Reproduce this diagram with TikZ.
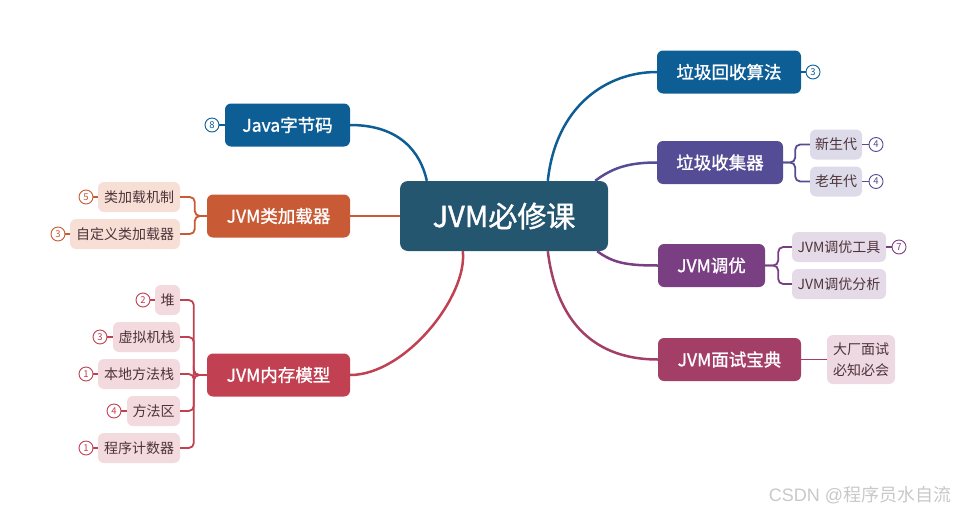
\documentclass[tikz,border=0pt]{standalone}
\usepackage{fontspec}
\setmainfont{Noto Sans CJK SC}
\newfontfamily\semib[FakeBold=1.3]{Noto Sans CJK SC}
\newfontfamily\wmfont{Liberation Sans}
\usetikzlibrary{calc}
\definecolor{cmain}{RGB}{36,86,112}
\definecolor{cblue}{RGB}{14,94,150}
\definecolor{corange}{RGB}{200,90,53}
\definecolor{cred}{RGB}{193,64,82}
\definecolor{cpurple}{RGB}{84,76,148}
\definecolor{cviolet}{RGB}{122,62,130}
\definecolor{cberry}{RGB}{163,62,102}
\definecolor{lorange}{RGB}{247,223,214}
\definecolor{lred}{RGB}{243,218,222}
\definecolor{lpurple}{RGB}{221,219,234}
\definecolor{lviolet}{RGB}{229,218,232}
\definecolor{lberry}{RGB}{238,217,226}
\definecolor{ctext}{RGB}{78,52,58}
\definecolor{cwater}{RGB}{200,200,200}
\begin{document}
\begin{tikzpicture}[x=1pt,y=-1pt,
  mainbox/.style={fill=cmain, text=white, rounded corners=8, minimum width=208, minimum height=70, font=\semib\fontsize{29}{32}\selectfont, inner sep=0},
  lone/.style={fill=#1, text=white, rounded corners=6, minimum height=43, font=\semib\fontsize{17.5}{20}\selectfont, inner sep=0},
  ltwo/.style={fill=#1, text=ctext, rounded corners=6, minimum height=30, font=\fontsize{14}{16}\selectfont, inner sep=0},
  badge/.style={circle, draw=#1, fill=white, line width=0.9, minimum size=14, inner sep=0, font=\fontsize{9.5}{10}\selectfont, text=#1},
  branch/.style={draw=#1, line width=2.5},
  bracket/.style={draw=#1, line width=1.8, rounded corners=5},
  blink/.style={draw=#1, line width=1.2}
]
\useasboundingbox (0,0) rectangle (957,514);

% central
\node[mainbox] (c) at (504,216) {JVM必修课};

% left level 1
\node[lone=cblue, minimum width=125] (java) at (287.5,125) {Java字节码};
\node[lone=corange, minimum width=143] (cl) at (278.5,216) {JVM类加载器};
\node[lone=cred, minimum width=143] (mm) at (278.5,375) {JVM内存模型};

% right level 1
\node[lone=cblue, minimum width=144] (gca) at (729,72) {垃圾回收算法};
\node[lone=cpurple, minimum width=126] (gcc) at (720,162.5) {垃圾收集器};
\node[lone=cviolet, minimum width=107] (tune) at (711.5,265.5) {JVM调优};
\node[lone=cberry, minimum width=143] (iv) at (729.5,359.5) {JVM面试宝典};

% branches
\draw[branch=cblue] (java.east) .. controls +(50,0) and +(-6,-28) .. ($(c.north west)+(27,0)$);
\draw[branch=corange] (cl.east) -- (c.west);
\draw[branch=cred] (mm.east) .. controls +(55,0) and +(5,45) .. ($(c.south west)+(63,0)$);
\draw[branch=cblue] ($(c.north west)+(148,0)$) .. controls +(8,-75) and +(-50,0) .. (gca.west);
\draw[branch=cpurple] ($(c.north east)+(-13,0)$) .. controls +(16,-12) and +(-30,0) .. (gcc.west);
\draw[branch=cviolet] ($(c.south east)+(-11,0)$) .. controls +(16,12) and +(-30,0) .. (tune.west);
\draw[branch=cberry] ($(c.south west)+(148,0)$) .. controls +(10,80) and +(-55,0) .. (iv.west);

% class loader children
\node[ltwo=lorange, minimum width=82] (cl1) at (139,197) {类加载机制};
\node[ltwo=lorange, minimum width=110] (cl2) at (125,234) {自定义类加载器};
\foreach \n in {cl1,cl2}
  \draw[bracket=corange] (cl.west) -- ++(-12,0) |- (\n.east);
\node[badge=corange] (b1) at (86,197) {5};
\node[badge=corange] (b2) at (58,234) {3};
\draw[blink=corange] (b1) -- (cl1);
\draw[blink=corange] (b2) -- (cl2);

% memory model children
\node[ltwo=lred, minimum width=25] (m1) at (167.5,300) {堆};
\node[ltwo=lred, minimum width=67] (m2) at (146.5,337) {虚拟机栈};
\node[ltwo=lred, minimum width=82] (m3) at (139,374) {本地方法栈};
\node[ltwo=lred, minimum width=53] (m4) at (153.5,411) {方法区};
\node[ltwo=lred, minimum width=82] (m5) at (139,448) {程序计数器};
\foreach \n in {m1,m2,m3,m4,m5}
  \draw[bracket=cred] (mm.west) -- ++(-13,0) |- (\n.east);
\node[badge=cred] (bm1) at (143,300) {2};
\node[badge=cred] (bm2) at (100,337) {3};
\node[badge=cred] (bm3) at (86,374) {1};
\node[badge=cred] (bm4) at (114,411) {4};
\node[badge=cred] (bm5) at (86,448) {1};
\foreach \i in {1,...,5}
  \draw[blink=cred] (bm\i) -- (m\i);

% java badge
\node[badge=cblue] (bj) at (212,125) {8};
\draw[blink=cblue] (bj) -- (java);

% gc algorithm badge
\node[badge=cblue] (bg) at (813,72) {3};
\draw[blink=cblue] (gca) -- (bg);

% gc collectors children
\node[ltwo=lpurple, minimum width=52] (g1) at (836,144.5) {新生代};
\node[ltwo=lpurple, minimum width=52] (g2) at (836,181.5) {老年代};
\foreach \n in {g1,g2}
  \draw[bracket=cpurple] (gcc.east) -- ++(12,0) |- (\n.west);
\node[badge=cpurple] (bg1) at (876,144.5) {4};
\node[badge=cpurple] (bg2) at (876,181.5) {4};
\draw[blink=cpurple] (g1) -- (bg1);
\draw[blink=cpurple] (g2) -- (bg2);

% tuning children
\node[ltwo=lviolet, minimum width=94] (t1) at (839,247) {JVM调优工具};
\node[ltwo=lviolet, minimum width=94] (t2) at (839,284) {JVM调优分析};
\foreach \n in {t1,t2}
  \draw[bracket=cviolet] (tune.east) -- ++(13,0) |- (\n.west);
\node[badge=cviolet] (bt1) at (899,247) {7};
\draw[blink=cviolet] (t1) -- (bt1);

% interview child
\node[ltwo=lberry, minimum width=68, minimum height=49, align=center, font=\fontsize{14}{21}\selectfont] (i1) at (861,359.5) {大厂面试\\必知必会};
\draw[bracket=cberry] (iv.east) -- (i1.west);

% watermark
\node[text=cwater, font=\fontsize{18}{19}\selectfont, inner sep=0] (wm) at (860,495) {{\wmfont CSDN @}程序员水自流};
\end{tikzpicture}
\end{document}
